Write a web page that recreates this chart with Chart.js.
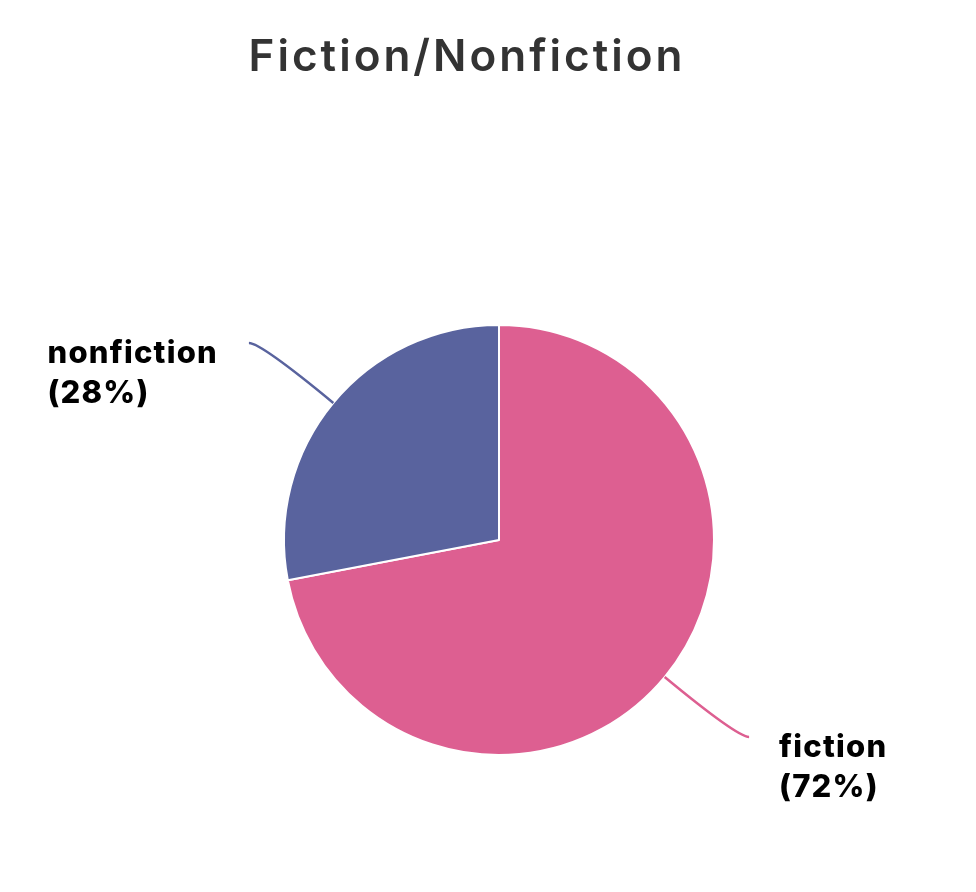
<!DOCTYPE html>
<html>
<head>
<meta charset="utf-8">
<script src="https://cdn.jsdelivr.net/npm/chart.js@4"></script>
<style>
  html, body { margin: 0; padding: 0; background: #fff; }
  #wrap { width: 976px; height: 892px; }
</style>
</head>
<body>
<div id="wrap"><canvas id="pieChart" width="976" height="892"></canvas></div>
<script>
const titleText = 'Fiction/Nonfiction';
const categories = ['fiction', 'nonfiction'];
const shares = [72, 28];
const sliceColors = ['#DD5F91', '#59639E'];

// --- callout labels with curved leader lines ---
const calloutPlugin = {
  id: 'callouts',
  afterDraw(chart) {
    const ctx = chart.ctx;
    ctx.save();

    // title (sits a bit left of the pie centre in the original)
    ctx.fillStyle = '#333333';
    ctx.font = '600 44px Inter';
    ctx.letterSpacing = '3px';
    ctx.textAlign = 'center';
    ctx.textBaseline = 'alphabetic';
    ctx.fillText(titleText, 467, 71);

    const meta = chart.getDatasetMeta(0);
    meta.data.forEach((arc, i) => {
      const { x, y, startAngle, endAngle, outerRadius } = arc.getProps(['x', 'y', 'startAngle', 'endAngle', 'outerRadius'], true);
      const mid = (startAngle + endAngle) / 2;
      const dx = Math.cos(mid), dy = Math.sin(mid);
      const side = dx >= 0 ? 1 : -1;
      const sx = x + dx * outerRadius, sy = y + dy * outerRadius;
      const ex0 = x + dx * (outerRadius + 94), ey = y + dy * (outerRadius + 94);
      const ex = ex0 + side * 12;

      ctx.strokeStyle = sliceColors[i];
      ctx.lineWidth = 2.5;
      ctx.beginPath();
      ctx.moveTo(sx, sy);
      ctx.quadraticCurveTo(ex0, ey, ex, ey);
      ctx.stroke();

      // two-line label block, left aligned on both sides
      const lines = [categories[i], '(' + shares[i] + '%)'];
      ctx.fillStyle = '#000000';
      ctx.font = '800 31px Inter';
      ctx.letterSpacing = '1.2px';
      ctx.textAlign = 'left';
      ctx.textBaseline = 'alphabetic';
      const blockW = Math.max(...lines.map(t => ctx.measureText(t).width));
      const tx = side > 0 ? ex + 30 : ex - 31 - blockW;
      lines.forEach((t, k) => ctx.fillText(t, tx, ey + 20 + k * 40));
    });
    ctx.restore();
  }
};

window.addEventListener('DOMContentLoaded', () => {
  const ctx = document.getElementById('pieChart').getContext('2d');
  new Chart(ctx, {
    type: 'pie',
    data: {
      labels: categories,
      datasets: [{
        data: shares,
        backgroundColor: sliceColors,
        borderColor: '#ffffff',
        borderWidth: 2
      }]
    },
    options: {
      responsive: false,
      animation: false,
      devicePixelRatio: 1,
      layout: { padding: { left: 283, right: 261, top: 324, bottom: 136 } },
      plugins: {
        legend: { display: false },
        title: { display: false },
        tooltip: { enabled: false }
      }
    },
    plugins: [calloutPlugin]
  });
});
</script>
</body>
</html>
